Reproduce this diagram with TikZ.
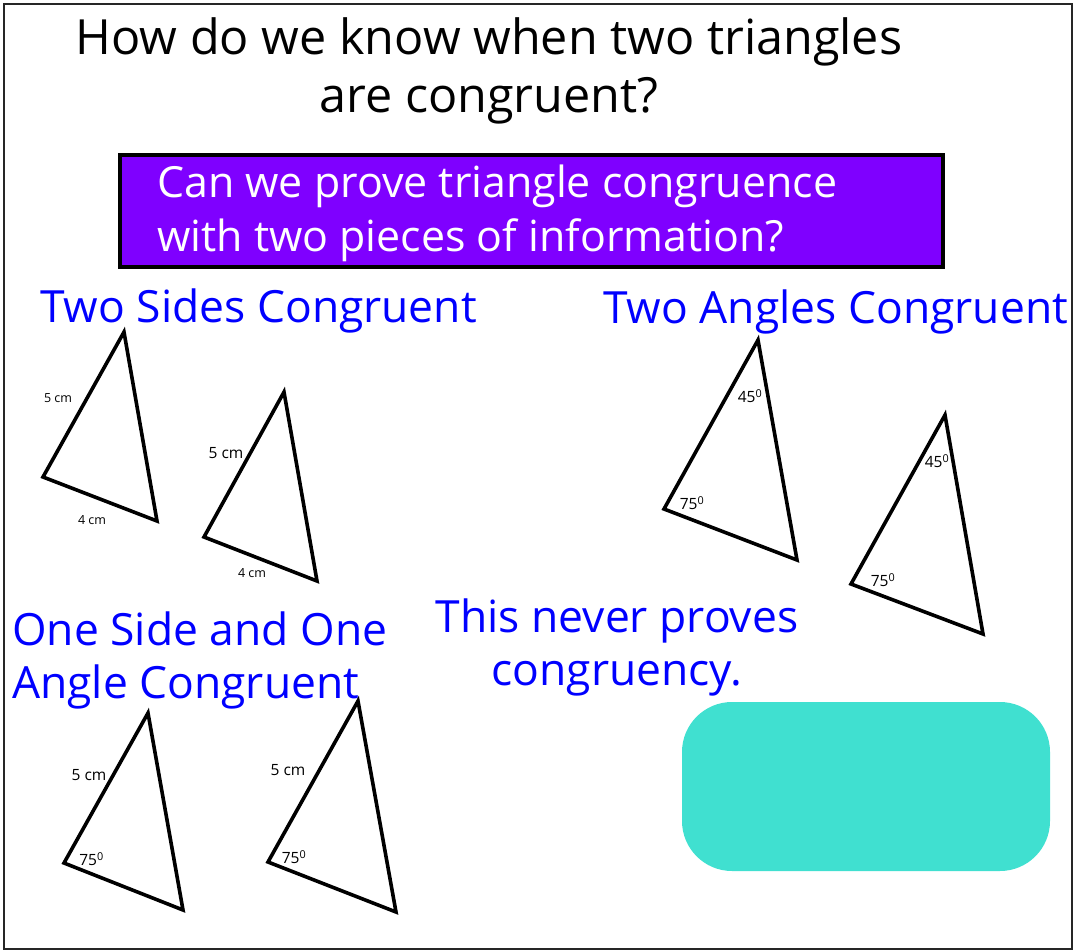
\documentclass[tikz,border=0pt]{standalone}
\usepackage{fontspec}
\setmainfont{Open Sans}
\definecolor{qpurple}{HTML}{7F00FF}
\definecolor{hblue}{HTML}{0000FF}
\definecolor{tealc}{HTML}{40E0D0}
\newcommand{\LinesC}[2]{\vtop{\baselineskip=#1\relax\halign{\hfil##\hfil\cr#2\crcr}}}
\newcommand{\LinesL}[2]{\vtop{\baselineskip=#1\relax\halign{##\hfil\cr#2\crcr}}}
\newcommand{\dg}[1]{#1\textsuperscript{0}}
\begin{document}
\begin{tikzpicture}[x=1pt,y=-1pt,
  frame/.style={line width=2pt, draw=black!85},
  tri/.style={line width=3.6pt, line join=miter},
  big/.style={inner sep=0pt, font=\fontsize{48.5}{54}\selectfont},
  qtxt/.style={inner sep=0pt, text=white, font=\fontsize{42.9}{48}\selectfont},
  head/.style={inner sep=0pt, text=hblue, font=\fontsize{44.4}{50}\selectfont},
  qbox/.style={draw=black, line width=4pt, fill=qpurple, minimum width=823pt, minimum height=112pt, inner sep=0pt},
  lblS/.style={inner sep=0pt, font=\fontsize{12.5}{14}\selectfont},
  lblM/.style={inner sep=0pt, font=\fontsize{15.5}{17}\selectfont},
  tbox/.style={fill=tealc, rounded corners=50pt, minimum width=368pt, minimum height=169pt, inner sep=0pt}]
\useasboundingbox (0,0) rectangle (1076,952);
\draw[frame] (4,4) rectangle (1072,949);

% title
\node[big, anchor=base] (title) at (489,55) {\LinesC{58pt}{How do we know when two triangles\cr are congruent?}};

% question box
\node[qbox] (qbox) at (531.5,211) {};
\node[qtxt, anchor=base west] (qtext) at (157,198) {\LinesL{54pt}{Can we prove triangle congruence\cr with two pieces of information?}};

% headings
\node[head, anchor=base west] (h1) at (40,322) {Two Sides Congruent};
\node[head, anchor=base west] (h2) at (603,323) {Two Angles Congruent};
\node[head, anchor=base west] (h3) at (12,645) {\LinesL{53pt}{One Side and One\cr Angle Congruent}};
\node[head, anchor=base] (h4) at (617,632) {\LinesC{53pt}{This never proves\cr congruency.}};

% teal box
\node[tbox] (tb) at (866,786.5) {};

% triangle 1
\draw[tri] (124,332) -- (43,477) -- (157,521) -- cycle;
\node[lblS] (t1s) at (58,398) {5 cm};
\node[lblS] (t1b) at (92,520) {4 cm};
% triangle 2
\draw[tri] (284,392) -- (204,537) -- (317,581) -- cycle;
\node[lblM] (t2s) at (226,453) {5 cm};
\node[lblS] (t2b) at (252,573) {4 cm};
% triangle 3
\draw[tri] (758,340) -- (664,509) -- (797,560) -- cycle;
\node[lblM] (t3a) at (750,396) {\dg{45}};
\node[lblM] (t3b) at (692,503) {\dg{75}};
% triangle 4
\draw[tri] (945,415) -- (851,584) -- (983,634) -- cycle;
\node[lblM] (t4a) at (937,461) {\dg{45}};
\node[lblM] (t4b) at (883,580) {\dg{75}};
% triangle 5
\draw[tri] (148,713) -- (64,863) -- (183,910) -- cycle;
\node[lblM] (t5s) at (89,775) {5 cm};
\node[lblM] (t5a) at (91.5,859) {\dg{75}};
% triangle 6
\draw[tri] (358,701) -- (268,862) -- (396,912) -- cycle;
\node[lblM] (t6s) at (288,770) {5 cm};
\node[lblM] (t6a) at (294,857) {\dg{75}};
\end{tikzpicture}
\end{document}
